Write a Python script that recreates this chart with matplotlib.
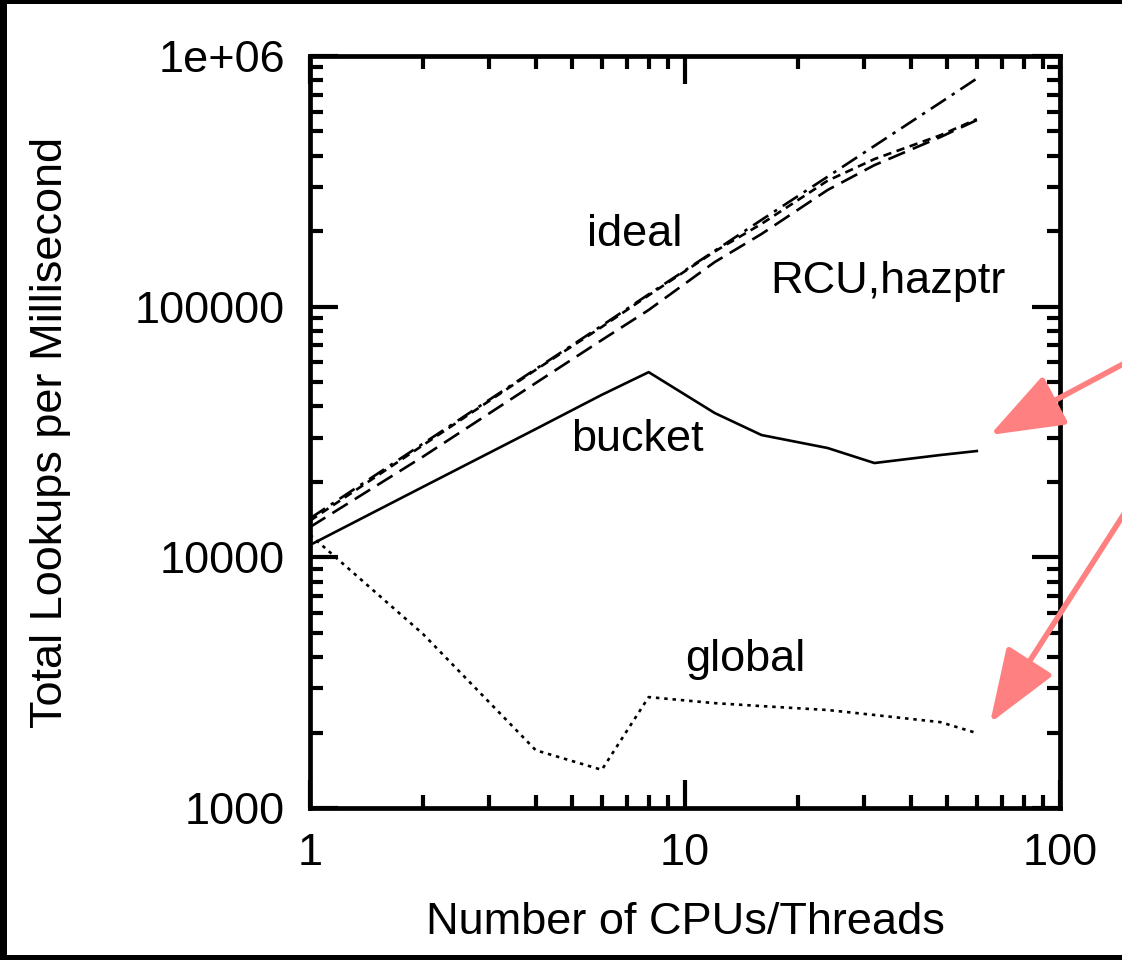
import numpy as np
import matplotlib
matplotlib.use('Agg')
import matplotlib.pyplot as plt
from matplotlib.patches import Rectangle

# Lookup throughput vs. thread count
threads = [1, 2, 4, 6, 8, 12, 16, 24, 32, 48, 60]
ideal   = [14300, 28400, 56400, 84000, 112000, 167000, 222000, 330000, 438000, 652000, 813000]
hazptr  = [14000, 28000, 56000, 83000, 111000, 166000, 214000, 318000, 388000, 483000, 560000]
rcu     = [13200, 25200, 49600, 73600, 97000, 150600, 195000, 292000, 367000, 475000, 555000]
bucket  = [11200, 19100, 32500, 44500, 54800, 37650, 30750, 27300, 23780, 25600, 26550]
glob    = [12300, 4950, 1700, 1420, 2770, 2620, 2550, 2460, 2350, 2200, 1990]

plt.rcParams['font.family'] = ['Liberation Sans', 'DejaVu Sans']
plt.rcParams['lines.scale_dashes'] = False

fig = plt.figure(figsize=(11.22, 9.6), dpi=100)
ax = fig.add_axes([310 / 1122, 152 / 960, 750 / 1122, 752 / 960])

lw = 1.9
ax.plot(threads, ideal, color='black', lw=lw, linestyle=(0, (13, 5, 2.5, 5)))
ax.plot(threads, hazptr, color='black', lw=lw, linestyle=(0, (6, 4)))
ax.plot(threads, rcu, color='black', lw=lw, linestyle=(0, (13, 6)))
ax.plot(threads, bucket, color='black', lw=lw, linestyle='-')
ax.plot(threads, glob, color='black', lw=lw, linestyle=(0, (2.5, 3.5)))

ax.set_xscale('log')
ax.set_yscale('log')
ax.set_xlim(1, 100)
ax.set_ylim(1000, 1e6)

fs = 32.5
ax.set_xticks([1, 10, 100])
ax.set_xticklabels(['1', '10', '100'])
ax.set_yticks([1000, 10000, 100000, 1e6])
ax.set_yticklabels(['1000', '10000', '100000', '1e+06'])
ax.tick_params(which='both', direction='in', top=True, right=True, width=3, labelsize=fs)
ax.tick_params(which='major', length=20, pad=18)
ax.tick_params(which='minor', length=9.5)
for s in ax.spines.values():
    s.set_linewidth(3.4)

ax.set_xlabel('Number of CPUs/Threads', fontsize=fs, labelpad=20)
ax.set_ylabel('Total Lookups per Millisecond', fontsize=fs, labelpad=46)

ax.text(7.36, 174600, 'ideal', fontsize=fs, ha='center', va='baseline')
ax.text(34.8, 113000, 'RCU,hazptr', fontsize=fs, ha='center', va='baseline')
ax.text(7.45, 26550, 'bucket', fontsize=fs, ha='center', va='baseline')
ax.text(14.45, 3520, 'global', fontsize=fs, ha='center', va='baseline')

# salmon arrows pointing at the bucket and global curves
arrow_props = dict(arrowstyle='-|>,head_length=46,head_width=17', mutation_scale=1,
                   color='#ff8080', lw=4, shrinkA=0, shrinkB=0)
ax.annotate('', xy=(990, 960 - 435), xycoords='figure pixels',
            xytext=(1140, 960 - 355), textcoords='figure pixels', arrowprops=arrow_props)
ax.annotate('', xy=(990, 960 - 723), xycoords='figure pixels',
            xytext=(1140, 960 - 489), textcoords='figure pixels', arrowprops=arrow_props)

# black frame on the left, top and bottom of the picture
W, H = 1122, 960
for x0, y0, w, h in [(0, 0, 7, H), (0, H - 4, W, 4), (0, 0, W, 5)]:
    fig.add_artist(Rectangle((x0 / W, y0 / H), w / W, h / H, transform=fig.transFigure,
                             color='black', lw=0))

fig.savefig('out.png', dpi=100)
